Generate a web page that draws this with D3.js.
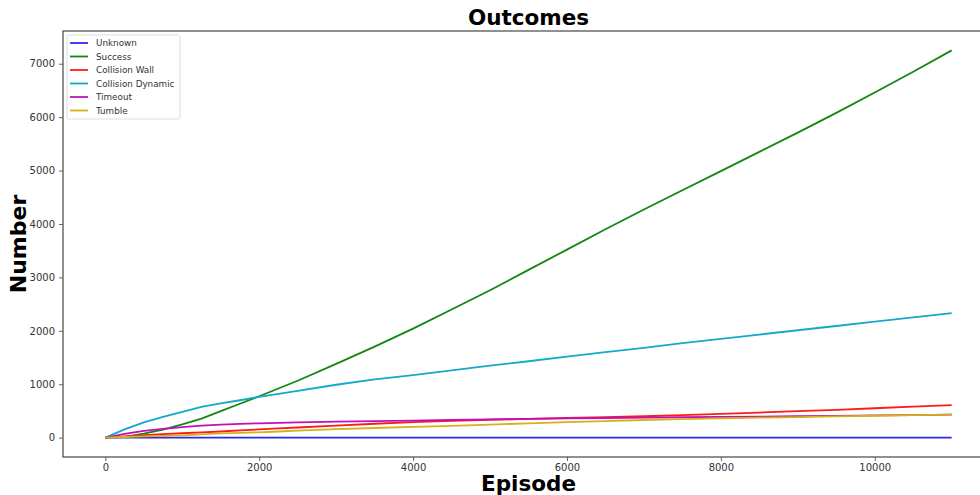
<!DOCTYPE html>
<html>
<head>
<meta charset="utf-8">
<script src="https://cdn.jsdelivr.net/npm/d3@7"></script>
<style>
  html, body { margin: 0; padding: 0; background: #fff; }
  svg { display: block; font-family: "DejaVu Sans", sans-serif; }
</style>
</head>
<body>
<svg id="chart" width="980" height="495"></svg>
<script>
// Cumulative outcome counts sampled along training episodes
const episodes = [0, 250, 500, 750, 1000, 1250, 1500, 1750, 2000, 2250, 2500, 3000, 3500, 4000, 4500, 5000, 5500, 6000, 6500, 7000, 7500, 8000, 8500, 9000, 9500, 10000, 10500, 11000];

const unknownVals   = [0, 0, 0, 0, 0, 0, 0, 0, 0, 0, 0, 0, 0, 0, 0, 0, 0, 0, 0, 0, 0, 0, 0, 0, 0, 0, 0, 0];
const successVals   = [0, 15, 75, 150, 250, 355, 495, 635, 775, 920, 1065, 1380, 1705, 2040, 2400, 2760, 3140, 3520, 3900, 4270, 4630, 4990, 5350, 5710, 6080, 6460, 6850, 7250];
const wallVals      = [0, 22, 45, 64, 82, 100, 115, 135, 155, 172, 190, 225, 260, 290, 315, 335, 352, 368, 385, 400, 420, 445, 470, 495, 520, 550, 580, 610];
const dynamicVals   = [0, 155, 285, 390, 480, 575, 640, 700, 765, 820, 875, 990, 1090, 1170, 1260, 1348, 1430, 1515, 1600, 1680, 1770, 1850, 1930, 2010, 2090, 2170, 2250, 2330];
const timeoutVals   = [0, 70, 125, 165, 195, 225, 245, 258, 268, 278, 285, 298, 310, 320, 330, 340, 350, 360, 368, 375, 382, 388, 394, 400, 408, 415, 422, 430];
const tumbleVals    = [0, 12, 25, 33, 42, 62, 78, 90, 100, 115, 130, 158, 180, 200, 222, 245, 268, 290, 310, 330, 346, 362, 374, 385, 398, 410, 420, 430];

const seriesNames  = ["Unknown", "Success", "Collision Wall", "Collision Dynamic", "Timeout", "Tumble"];
const seriesColors = ["#2b2bf0", "#118811", "#ff1a1a", "#13a9c9", "#c010b8", "#d2b416"];
const seriesValues = [unknownVals, successVals, wallVals, dynamicVals, timeoutVals, tumbleVals];

const xTicks = [0, 2000, 4000, 6000, 8000, 10000];
const yTicks = [0, 1000, 2000, 3000, 4000, 5000, 6000, 7000];

const svg = d3.select("#chart");
const plot = { left: 63, top: 31, right: 994, bottom: 457 };

const xMin = d3.min(episodes), xMax = d3.max(episodes);
const yMin = 0, yMax = d3.max(seriesValues.flat());
const xPad = (xMax - xMin) * 0.05, yPad = (yMax - yMin) * 0.05;

const x = d3.scaleLinear().domain([xMin - xPad, xMax + xPad]).range([plot.left, plot.right]);
const y = d3.scaleLinear().domain([yMin - yPad, yMax + yPad]).range([plot.bottom, plot.top]);

// Axes
const xAxis = d3.axisBottom(x).tickValues(xTicks).tickSize(4).tickPadding(3).tickFormat(d3.format("d"));
const yAxis = d3.axisLeft(y).tickValues(yTicks).tickSize(4).tickPadding(4).tickFormat(d3.format("d"));

const gx = svg.append("g").attr("transform", `translate(0,${plot.bottom})`).call(xAxis);
const gy = svg.append("g").attr("transform", `translate(${plot.left},0)`).call(yAxis);
[gx, gy].forEach(g => {
  g.select(".domain").remove();
  g.selectAll(".tick line").attr("stroke", "#666").attr("stroke-width", 1);
  g.selectAll(".tick text").attr("fill", "#333").style("font-size", "10px").style("font-family", "DejaVu Sans, sans-serif");
});

// Lines
const line = d3.line()
  .x((d, i) => x(episodes[i]))
  .y(d => y(d));

svg.append("g").selectAll("path")
  .data(seriesValues)
  .join("path")
  .attr("d", d => line(d))
  .attr("fill", "none")
  .attr("stroke", (d, i) => seriesColors[i])
  .attr("stroke-width", 1.8)
  .attr("stroke-linejoin", "round");

// Frame
svg.append("rect")
  .attr("x", plot.left).attr("y", plot.top)
  .attr("width", plot.right - plot.left).attr("height", plot.bottom - plot.top)
  .attr("fill", "none").attr("stroke", "#555").attr("stroke-width", 1.3);

// Legend
const legend = svg.append("g").attr("transform", "translate(67,35)");
legend.append("rect")
  .attr("width", 113).attr("height", 84).attr("rx", 2)
  .attr("fill", "#fff").attr("stroke", "#ddd").attr("stroke-width", 1);
const rows = legend.selectAll("g.row").data(seriesNames).join("g")
  .attr("class", "row")
  .attr("transform", (d, i) => `translate(0,${8 + i * 13.5})`);
rows.append("line")
  .attr("x1", 3).attr("x2", 21).attr("y1", 0).attr("y2", 0)
  .attr("stroke", (d, i) => seriesColors[i]).attr("stroke-width", 1.8);
rows.append("text")
  .attr("x", 29).attr("y", 0).attr("dy", "0.35em")
  .attr("fill", "#333").style("font-size", "8.8px")
  .text(d => d);

// Titles
svg.append("text")
  .attr("x", (plot.left + plot.right) / 2).attr("y", 25)
  .attr("text-anchor", "middle").style("font-weight", "bold").style("font-size", "21.5px")
  .text("Outcomes");
svg.append("text")
  .attr("x", (plot.left + plot.right) / 2).attr("y", 491)
  .attr("text-anchor", "middle").style("font-weight", "bold").style("font-size", "21.5px")
  .text("Episode");
svg.append("text")
  .attr("transform", `translate(26,${(plot.top + plot.bottom) / 2}) rotate(-90)`)
  .attr("text-anchor", "middle").style("font-weight", "bold").style("font-size", "22px")
  .text("Number");
</script>
</body>
</html>
